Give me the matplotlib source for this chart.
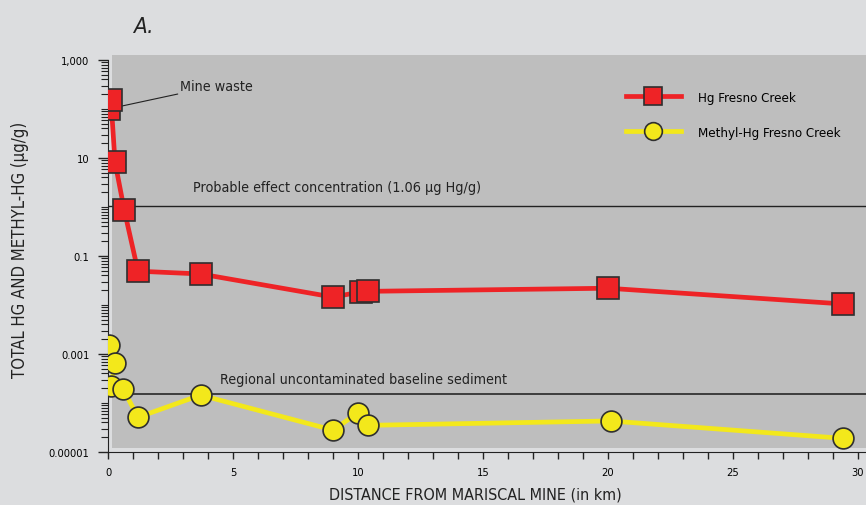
import numpy as np
import matplotlib.pyplot as plt
from matplotlib.patches import Rectangle
from matplotlib.ticker import LogLocator, FixedLocator, NullFormatter

plt.rcParams['font.family'] = ['DejaVu Sans']
plt.rcParams['font.stretch'] = 'condensed'

# Total Hg, Fresno Creek
hg_km = [0.05, 0.12, 0.28, 0.65, 1.2, 3.7, 9.0, 10.1, 10.4, 20.0, 29.4]
hg_val = [100, 150, 8.3, 0.87, 0.049, 0.043, 0.0145, 0.0185, 0.019, 0.022, 0.0105]

# Methyl-Hg, Fresno Creek
mhg_km = [0.05, 0.28, 0.12, 0.6, 1.2, 3.7, 9.0, 10.0, 10.4, 20.1, 29.4]
mhg_val = [0.0015, 0.00066, 0.00022, 0.000195, 5.1e-5, 0.000145, 2.8e-5, 6.3e-5, 3.5e-5, 4.3e-5, 1.9e-5]

pec = 1.06
baseline = 0.00015

red = '#ee2326'
yellow = '#f3e81b'
edge = '#2f2f2f'

fig = plt.figure(figsize=(8.66, 5.06), dpi=100)
fig.patch.set_facecolor('#dcdddf')
fig.add_artist(Rectangle((112 / 866, 1 - 449 / 506), 754 / 866, 393 / 506,
                         transform=fig.transFigure, facecolor='#bebebe',
                         edgecolor='none', zorder=-1))

ax = fig.add_axes([108 / 866, 1 - 453 / 506, 758 / 866, 392 / 506])
ax.patch.set_visible(False)
ax.set_yscale('log')
ax.set_xlim(0, 758 / 25)
ax.set_ylim(1e-5, 1e3)

ax.axhline(pec, color='#222222', lw=1.0, zorder=2)
ax.axhline(baseline, color='#333333', lw=1.3, zorder=2)
ax.text(3.4, 2.1, 'Probable effect concentration (1.06 \u00b5g Hg/g)',
        fontsize=10.3, color='#222222')
ax.text(4.5, 0.00026, 'Regional uncontaminated baseline sediment',
        fontsize=10.3, color='#222222')

ax.plot(hg_km, hg_val, color=red, lw=3.4, marker='s', ms=15.5,
        mfc=red, mec=edge, mew=1.2, zorder=4, label='Hg Fresno Creek')
ax.plot(mhg_km, mhg_val, color=yellow, lw=3.4, marker='o', ms=15,
        mfc=yellow, mec=edge, mew=1.2, zorder=3, label='Methyl-Hg Fresno Creek')

ax.annotate('Mine waste', xy=(0.45, 112), xytext=(2.9, 300),
            fontsize=10.3, color='#222222', va='center',
            arrowprops=dict(arrowstyle='-', color='#222222', lw=0.8,
                            shrinkA=0, shrinkB=0))

ax.legend(loc='upper left', bbox_to_anchor=(0.677, 0.935), frameon=False,
          fontsize=9.5, handlelength=4.1, handletextpad=1.3,
          labelspacing=1.65, markerscale=0.85, borderaxespad=0)

for s in ['top', 'right']:
    ax.spines[s].set_visible(False)
ax.spines['left'].set_color('#222222')
ax.spines['bottom'].set_color('#222222')

ax.yaxis.set_major_locator(FixedLocator([1e-5, 1e-3, 1e-1, 10, 1e3]))
ax.yaxis.set_minor_locator(LogLocator(base=10, subs=np.arange(1, 10)))
ax.yaxis.set_minor_formatter(NullFormatter())
ax.set_yticklabels(['0.00001', '0.001', '0.1', '10', '1,000'])
ax.set_xticks([0, 5, 10, 15, 20, 25, 30])
ax.set_xticks(np.arange(0, 31, 1), minor=True)
ax.tick_params(axis='y', which='major', labelsize=8, color='#222222',
               direction='out', length=7.5, width=1, pad=6)
ax.tick_params(axis='y', which='minor', direction='out', length=5, width=0.8,
               color='#222222')
ax.tick_params(axis='x', which='major', labelsize=8, color='#222222',
               direction='out', length=5, width=1, pad=6)
ax.tick_params(axis='x', which='minor', direction='out', length=5, width=1,
               color='#222222')

ax.set_xlabel('DISTANCE FROM MARISCAL MINE (in km)', fontsize=11.5,
              color='#222222')
ax.xaxis.set_label_coords(0.485, -0.089)
ax.set_ylabel('TOTAL HG AND METHYL-HG (\u00b5g/g)', fontsize=12,
              color='#222222')
ax.yaxis.set_label_coords(-0.104, 0.518)

fig.text(133 / 866, 1 - 27 / 506, 'A.', fontsize=16, style='italic',
         color='#222222', va='center')

fig.savefig('out.png', dpi=100, facecolor=fig.get_facecolor())
